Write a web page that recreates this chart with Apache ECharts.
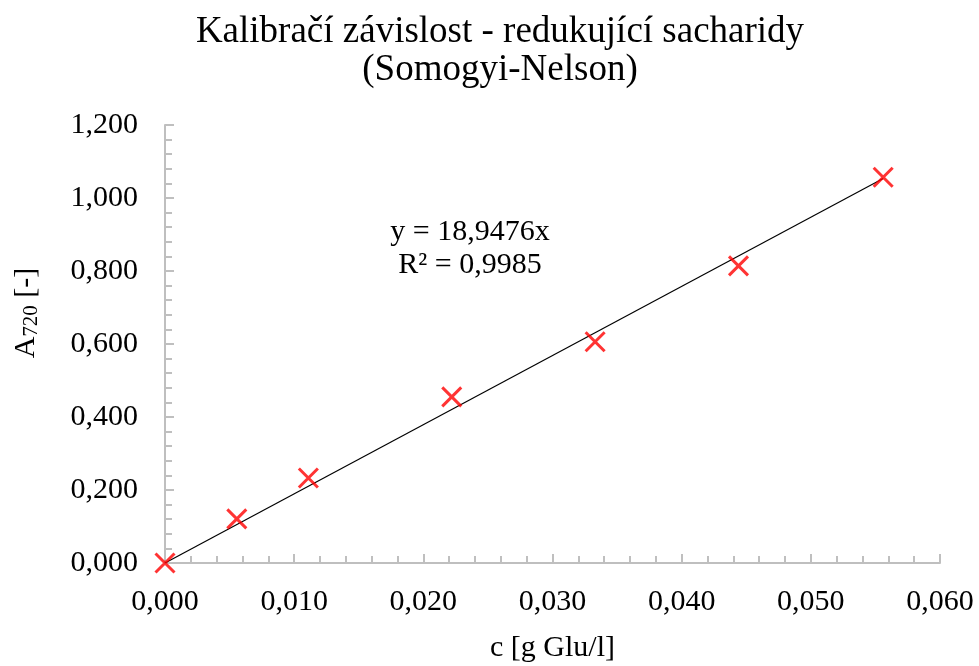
<!DOCTYPE html>
<html>
<head>
<meta charset="utf-8">
<script src="https://cdn.jsdelivr.net/npm/echarts@6/dist/echarts.min.js"></script>
<style>
  html, body { margin: 0; padding: 0; background: #fff; }
  #chart { width: 979px; height: 666px; }
</style>
</head>
<body>
<div id="chart"></div>
<script>
// Glucose concentration [g/l] and measured absorbance at 720 nm
const concentration = [0, 0.00556, 0.0111, 0.0222, 0.0333, 0.0444, 0.0556];
const absorbance = [0, 0.121, 0.233, 0.455, 0.606, 0.814, 1.057];

// Linear fit through the origin
const slope = 18.9476;
const rSquared = 0.9985;

const xTicks = [0, 0.01, 0.02, 0.03, 0.04, 0.05, 0.06];
const yTicks = [0, 0.2, 0.4, 0.6, 0.8, 1.0, 1.2];

const fmt = (v) => v.toFixed(3).replace('.', ',');
const fmt4 = (v) => v.toFixed(4).replace('.', ',');

const points = concentration.map((c, i) => [c, absorbance[i]]);
const xLast = concentration[concentration.length - 1];
const trend = [[0, 0], [xLast, slope * xLast]];

const FONT = '"Liberation Serif", "Times New Roman", serif';
const AXIS_GRAY = '#bfbfbf';

const chart = echarts.init(document.getElementById('chart'), null, { renderer: 'canvas' });

const xBase = {
  type: 'value', min: xTicks[0], max: xTicks[xTicks.length - 1], interval: 0.01,
  splitLine: { show: false }
};
const yBase = {
  type: 'value', min: yTicks[0], max: yTicks[yTicks.length - 1], interval: 0.2,
  splitLine: { show: false }
};

chart.setOption({
  backgroundColor: '#fff',
  animation: false,
  title: {
    text: 'Kalibračí závislost - redukující sacharidy\n(Somogyi-Nelson)',
    left: 495, top: 8, textAlign: 'center',
    textStyle: { fontFamily: FONT, fontSize: 37, fontWeight: 'normal', color: '#000', lineHeight: 38 }
  },
  // fixed plot rectangle; do not let axis texts shrink it
  grid: { left: 165, right: 39, top: 125, bottom: 103, outerBoundsMode: 'none' },
  xAxis: [
    Object.assign({}, xBase, {
      name: 'c [g Glu/l]', nameLocation: 'middle', nameGap: 70, nameMoveOverlap: false,
      nameTextStyle: { fontFamily: FONT, fontSize: 30, color: '#000' },
      axisLine: { lineStyle: { color: AXIS_GRAY, width: 2 } },
      axisTick: { inside: true, length: 8, lineStyle: { color: AXIS_GRAY, width: 2 } },
      minorTick: { show: true, splitNumber: 5, length: 7, lineStyle: { color: AXIS_GRAY, width: 2 } },
      axisLabel: { margin: 24, fontFamily: FONT, fontSize: 30, color: '#000', formatter: fmt }
    }),
    Object.assign({}, xBase, {
      axisLine: { show: false },
      axisTick: { inside: false, length: 9, lineStyle: { color: AXIS_GRAY, width: 2 } },
      axisLabel: { show: false }
    })
  ],
  yAxis: [
    Object.assign({}, yBase, {
      name: '{a|A}{s|720}{a| [-]}', nameLocation: 'middle', nameGap: 123, nameRotate: 90,
      nameMoveOverlap: false,
      nameTextStyle: {
        fontFamily: FONT, fontSize: 30, color: '#000',
        padding: [0, 0, 0, 62],
        rich: {
          a: { fontFamily: FONT, fontSize: 30, color: '#000' },
          s: { fontFamily: FONT, fontSize: 21, color: '#000', padding: [11, 0, 0, 0] }
        }
      },
      axisLine: { lineStyle: { color: AXIS_GRAY, width: 2 } },
      axisTick: { inside: true, length: 8, lineStyle: { color: AXIS_GRAY, width: 2 } },
      minorTick: { show: true, splitNumber: 5, length: 7, lineStyle: { color: AXIS_GRAY, width: 2 } },
      axisLabel: { margin: 27, fontFamily: FONT, fontSize: 30, color: '#000', formatter: fmt }
    }),
    Object.assign({}, yBase, {
      axisLine: { show: false },
      axisTick: { inside: false, length: 9, lineStyle: { color: AXIS_GRAY, width: 2 } },
      axisLabel: { show: false }
    })
  ],
  graphic: [{
    type: 'text', x: 470, y: 216,
    style: {
      text: 'y = ' + fmt4(slope) + 'x\nR² = ' + fmt4(rSquared),
      fontFamily: FONT, fontSize: 30, fill: '#000', align: 'center', lineHeight: 33
    }
  }],
  series: [
    {
      name: 'trend', type: 'line', data: trend, symbol: 'none',
      lineStyle: { color: '#000', width: 1.2 }, z: 2, silent: true
    },
    {
      name: 'A720', type: 'scatter', data: points,
      symbol: 'path://M0,0L10,10M10,0L0,10', symbolSize: 19,
      itemStyle: { color: 'rgba(0,0,0,0)', borderColor: '#ff0000', borderWidth: 3 },
      z: 3
    }
  ]
});
</script>
</body>
</html>
